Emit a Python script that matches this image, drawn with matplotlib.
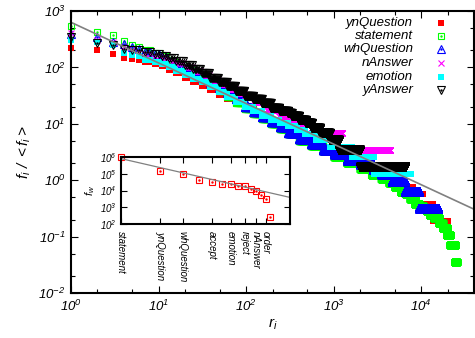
import numpy as np
import matplotlib
matplotlib.use('Agg')
import matplotlib.pyplot as plt
from matplotlib.ticker import LogLocator, NullFormatter, NullLocator

plt.rcParams['font.family'] = ['Liberation Sans', 'DejaVu Sans']
plt.rcParams['font.style'] = 'italic'
plt.rcParams['mathtext.fontset'] = 'custom'
plt.rcParams['mathtext.rm'] = 'Liberation Sans:italic'
plt.rcParams['mathtext.it'] = 'Liberation Sans:italic'
plt.rcParams['mathtext.sf'] = 'Liberation Sans:italic'

# rank-frequency steps: value holds up to (and including) the end rank
ynq_end = [1, 2, 3, 4, 5, 6, 8, 10, 12, 15, 19, 24, 30, 38, 48, 60, 75, 95, 120, 150, 190, 240, 300,
           400, 550, 750, 1000, 1400, 2000, 3000, 3300, 3800, 4600, 6000, 8100, 10500, 13700, 20000]
ynq_val = [220, 200, 173, 148, 141, 138, 126, 117, 105, 91, 78, 66, 56, 47, 39, 33, 27.5, 23, 19, 15.8, 13.2, 11, 9.1,
           7.4, 5.8, 4.6, 3.6, 2.75, 2.1, 1.6, 1.52, 1.33, 1.14, 0.95, 0.76, 0.57, 0.38, 0.19]

stat_end = [1, 2, 3, 4, 5, 6, 8, 10, 12, 15, 19, 24, 30, 38, 48, 60, 75, 95, 120, 150, 190, 240, 300,
            400, 550, 750, 1000, 1400, 2000, 2700, 3500, 4300, 5000, 5800, 6600, 7500, 8500, 9500,
            10500, 11500, 12500, 14000, 15800, 17500, 19500, 21500, 24400, 25300]
stat_val = [550, 430, 375, 290, 250, 234, 204, 182, 162, 138, 112, 91, 74, 60, 48, 38, 30, 23.4, 18.6, 14.8, 12, 9.8, 8.1,
            6.5, 5.0, 4.0, 3.3, 2.6, 2.05, 1.58, 1.26, 1.05, 0.89, 0.76, 0.63, 0.56, 0.455, 0.385,
            0.35, 0.315, 0.28, 0.245, 0.21, 0.175, 0.14, 0.105, 0.07, 0.035]

whq_end = [1, 2, 3, 4, 5, 6, 8, 10, 12, 15, 19, 24, 30, 38, 48, 60, 75, 95, 120, 150, 190, 240, 300,
           400, 550, 750, 1000, 1400, 2000, 2800, 3500, 4600, 6500, 9500, 15600]
whq_val = [390, 345, 285, 265, 230, 215, 190, 170, 152, 132, 112, 94, 79, 65, 53, 43, 34.5, 27.5, 20.0, 16.0, 13.0, 10.6, 8.8,
           7.0, 5.4, 4.3, 3.5, 2.88, 2.24, 1.92, 1.6, 1.28, 0.96, 0.64, 0.32]

nans_end = [1, 2, 3, 4, 5, 6, 8, 10, 12, 15, 19, 24, 30, 38, 48, 60, 75, 95, 120, 172, 237, 330, 560, 1250, 4400]
nans_val = [400, 310, 280, 230, 200, 190, 172, 158, 146, 133, 118, 102, 87, 72, 60, 50, 42, 35, 31.5, 24.5, 17.5, 14,
            10.5, 7, 3.5]

emo_end = [1, 2, 3, 4, 5, 6, 8, 10, 12, 15, 19, 24, 30, 38, 48, 60, 75, 95, 120, 150, 190, 240, 300,
           380, 470, 620, 900, 1600, 2850, 7700]
emo_val = [310, 280, 250, 180, 166, 158, 138, 126, 115, 100, 87, 74, 63, 54, 45, 36, 30, 24.5, 20, 16.8, 14, 11.8,
           10.4, 9.1, 7.8, 6.5, 5.2, 3.9, 2.6, 1.3]

yans_end = [1, 2, 3, 4, 5, 6, 8, 10, 12, 15, 19, 24, 30, 38, 48, 60, 75, 95, 120, 150, 190, 240, 300,
            330, 400, 480, 560, 700, 900, 1150, 2000, 6600]
yans_val = [350, 270, 250, 215, 204, 200, 186, 170, 158, 145, 129, 112, 95, 79, 66, 56, 47, 38, 31.6, 27, 23, 19, 17,
            15.3, 13.6, 11.9, 10.2, 8.5, 6.8, 5.1, 3.4, 1.7]

fit_amp = 630
fit_exp = -0.72

# inset: dialogue act frequencies
inset_freq = [1.0e6, 1.5e5, 1.0e5, 4.4e4, 3.1e4, 2.5e4, 2.4e4, 1.9e4, 1.9e4, 1.3e4, 1.0e4, 5.5e3, 3.2e3, 270]
inset_tick_rank = [1, 2, 3, 5, 7, 9, 11, 13]
inset_tick_name = ['statement', 'ynQuestion', 'whQuestion', 'accept', 'emotion', 'reject', 'nAnswer', 'order']
inset_amp = 8e5
inset_exp = -1.78


def expand(ends, vals):
    ends = np.asarray(ends)
    counts = np.diff(np.concatenate([[0], ends]))
    return np.arange(1, ends[-1] + 1), np.repeat(vals, counts)


series = [
    ('ynQuestion', ynq_end, ynq_val, dict(marker='s', color='#ff0000', ms=4.6, mfc='#ff0000', mew=0), False),
    ('statement', stat_end, stat_val, dict(marker='s', color='#00ff00', ms=5, mfc='none', mew=0.8), True),
    ('whQuestion', whq_end, whq_val, dict(marker='^', color='#0000ff', ms=5.5, mfc='none', mew=0.8), True),
    ('nAnswer', nans_end, nans_val, dict(marker='x', color='#ff00ff', ms=5, mew=0.8), False),
    ('emotion', emo_end, emo_val, dict(marker='s', color='#00ffff', ms=4.6, mfc='#00ffff', mew=0), False),
    ('yAnswer', yans_end, yans_val, dict(marker='v', color='#000000', ms=5.5, mfc='none', mew=0.8), True),
]

fig = plt.figure(figsize=(4.75, 3.38), dpi=100)
ax = fig.add_axes([71 / 475, 45 / 338, 403 / 475, 282 / 338])

for name, ends, vals, st, dot in series:
    r, f = expand(ends, vals)
    ax.plot(r, f, ls='none', clip_on=False, **st)
    if dot:
        ax.plot(r, f, ls='none', marker='.', ms=1.5, color=st['color'], clip_on=False)

xl = np.array([1, 4e4])
ax.plot(xl, fit_amp * xl ** fit_exp, color='#808080', lw=1.2)

ax.set_xscale('log')
ax.set_yscale('log')
ax.set_xlim(1, 4e4)
ax.set_ylim(1e-2, 1e3)
ax.set_xticks([1, 10, 100, 1e3, 1e4], [r'$10^{%d}$' % k for k in range(5)])
ax.set_yticks([1e-2, 1e-1, 1, 10, 100, 1e3], [r'$10^{%d}$' % k for k in range(-2, 4)])
ax.xaxis.set_minor_locator(LogLocator(subs=(2, 5)))
ax.yaxis.set_minor_locator(LogLocator(subs=(2, 5)))
ax.xaxis.set_minor_formatter(NullFormatter())
ax.yaxis.set_minor_formatter(NullFormatter())
ax.tick_params(which='both', direction='in', top=True, right=True, width=0.8, labelsize=9.5)
ax.tick_params(which='major', length=5)
ax.tick_params(which='minor', length=2.8)
ax.tick_params(axis='x', pad=4)
ax.tick_params(axis='y', pad=4)
for s in ax.spines.values():
    s.set_linewidth(1.5)
ax.set_xlabel(r'$r_i$', fontsize=11, labelpad=2)
ax.set_ylabel(r'$f_i\ /\ <f_i>$', fontsize=11, labelpad=4)

# legend, gnuplot style: right-aligned text, marker on the right
rows = [0.959, 0.913, 0.864, 0.817, 0.767, 0.720]
for (name, ends, vals, st, dot), yr in zip(series, rows):
    ax.text(0.849, yr, name, transform=ax.transAxes, ha='right', va='center', fontsize=9.5)
    ax.plot([0.918], [yr], transform=ax.transAxes, ls='none', clip_on=False, **st)
    if dot:
        ax.plot([0.918], [yr], transform=ax.transAxes, ls='none', marker='.', ms=1.5,
                color=st['color'], clip_on=False)

# inset
ax_in = fig.add_axes([121 / 475, 114 / 338, 169 / 475, 67 / 338])
ir = np.arange(1, len(inset_freq) + 1)
ax_in.plot(ir, inset_freq, ls='none', marker='s', ms=5, mfc='none', mec='#ff0000', mew=0.8, clip_on=False)
ax_in.plot(ir, inset_freq, ls='none', marker='.', ms=1.5, color='#ff0000', clip_on=False)
il = np.array([1, 20])
ax_in.plot(il, inset_amp * il ** inset_exp, color='#808080', lw=0.9)
ax_in.set_xscale('log')
ax_in.set_yscale('log')
ax_in.set_xlim(1, 20)
ax_in.set_ylim(1e2, 1e6)
ax_in.set_xticks(inset_tick_rank, inset_tick_name, rotation=-90, fontsize=7)
ax_in.xaxis.set_minor_locator(NullLocator())
ax_in.set_yticks([1e2, 1e3, 1e4, 1e5, 1e6], [r'$10^{%d}$' % k for k in range(2, 7)])
ax_in.yaxis.set_minor_locator(NullLocator())
ax_in.tick_params(which='both', direction='in', top=True, right=True, width=0.8, length=4, labelsize=7)
ax_in.tick_params(axis='x', pad=5)
ax_in.tick_params(axis='y', pad=3)
for s in ax_in.spines.values():
    s.set_linewidth(1.5)
ax_in.set_ylabel(r'$f_w$', fontsize=8, labelpad=2)

fig.savefig('out.png', dpi=100)
